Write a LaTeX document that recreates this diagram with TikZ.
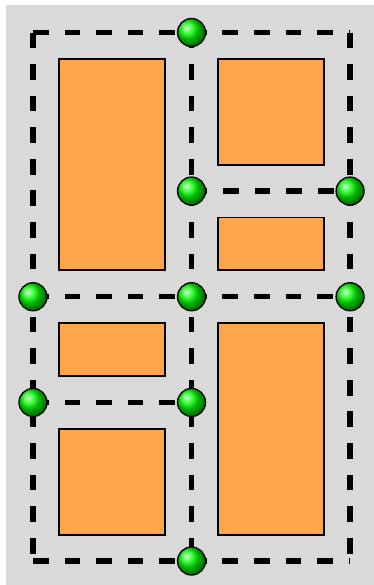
\documentclass[tikz,border=0pt]{standalone}
\begin{document}
\begin{tikzpicture}[
    gridline/.style={line width=2.8pt, dash pattern=on 8.5pt off 8.5pt},
    room/.style={draw=black, line width=1pt, fill=orange!70},
    ball/.style={circle, inner sep=0pt, minimum size=0.53cm, draw=black, line width=0.7pt, ball color=green}
]
    % 背景
    \useasboundingbox[fill=white] (-0.624,-0.454) rectangle (6.452,10.615);
    \fill[gray!30] (-0.511,-0.454) rectangle (6.452,10.52);
    % 房间（橙色矩形）
    \draw[room] (0.5,5.5) rectangle (2.5,9.5);
    \draw[room] (3.5,7.5) rectangle (5.5,9.5);
    \draw[room] (3.5,5.5) rectangle (5.5,6.5);
    \draw[room] (0.5,3.5) rectangle (2.5,4.5);
    \draw[room] (0.5,0.5) rectangle (2.5,2.5);
    \draw[room] (3.5,0.5) rectangle (5.5,4.5);
    % 网格点
    \coordinate (tl) at (0,10);
    \coordinate (tm) at (3,10);
    \coordinate (tr) at (6,10);
    \coordinate (rm) at (3,7);
    \coordinate (rr) at (6,7);
    \coordinate (ml) at (0,5);
    \coordinate (mm) at (3,5);
    \coordinate (mr) at (6,5);
    \coordinate (lm) at (3,3);
    \coordinate (ll) at (0,3);
    \coordinate (bl) at (0,0);
    \coordinate (bm) at (3,0);
    \coordinate (br) at (6,0);
    % 虚线边界
    \draw[gridline] (tl) -- (tr);
    \draw[gridline] (tl) -- (bl);
    \draw[gridline] (bl) -- (br);
    \draw[gridline] (tr) -- (br);
    \draw[gridline] (tm) -- (bm);
    \draw[gridline] (ml) -- (mr);
    \draw[gridline] (rm) -- (rr);
    \draw[gridline] (ll) -- (lm);
    % 绿色节点
    \node[ball] (n1) at (tm) {};
    \node[ball] (n2) at (rm) {};
    \node[ball] (n3) at (rr) {};
    \node[ball] (n4) at (ml) {};
    \node[ball] (n5) at (mm) {};
    \node[ball] (n6) at (mr) {};
    \node[ball] (n7) at (ll) {};
    \node[ball] (n8) at (lm) {};
    \node[ball] (n9) at (bm) {};
\end{tikzpicture}
\end{document}
